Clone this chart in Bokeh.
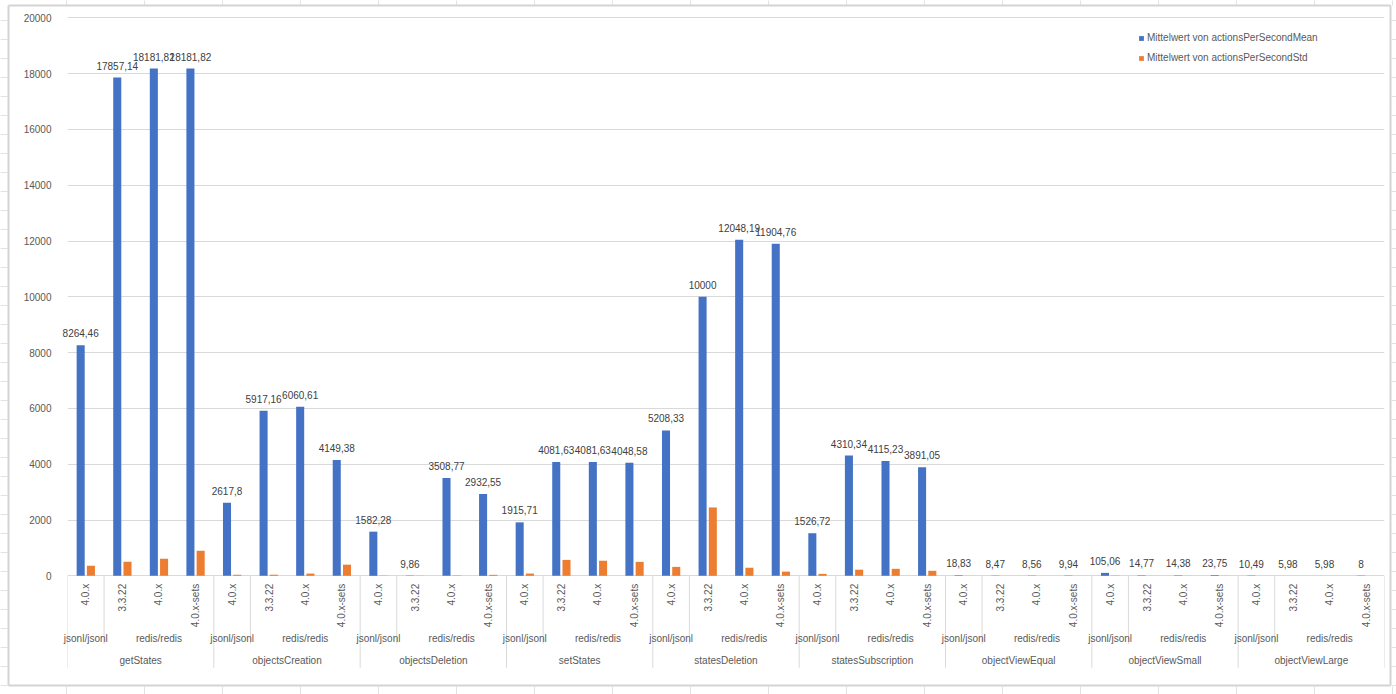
import math
from bokeh.plotting import figure
from bokeh.models import (FactorRange, Range1d, ColumnDataSource, FixedTicker, Legend,
                          LegendItem)
from bokeh.transform import dodge
from bokeh.core.properties import value
from bokeh.embed import file_html
from bokeh.resources import INLINE

# ---------------- data ----------------
tests = ["getStates", "objectsCreation", "objectsDeletion", "setStates", "statesDeletion",
         "statesSubscription", "objectViewEqual", "objectViewSmall", "objectViewLarge"]
backends = ["jsonl/jsonl", "redis/redis", "redis/redis", "redis/redis"]
versions = ["4.0.x", "3.3.22", "4.0.x", "4.0.x-sets"]

mean_values = [
    8264.46, 17857.14, 18181.82, 18181.82,      # getStates
    2617.8, 5917.16, 6060.61, 4149.38,          # objectsCreation
    1582.28, 9.86, 3508.77, 2932.55,            # objectsDeletion
    1915.71, 4081.63, 4081.63, 4048.58,         # setStates
    5208.33, 10000, 12048.19, 11904.76,         # statesDeletion
    1526.72, 4310.34, 4115.23, 3891.05,         # statesSubscription
    18.83, 8.47, 8.56, 9.94,                    # objectViewEqual
    105.06, 14.77, 14.38, 23.75,                # objectViewSmall
    10.49, 5.98, 5.98, 8,                       # objectViewLarge
]
std_values = [
    360, 500, 610, 900,
    40, 40, 80, 400,
    8, 4, 12, 35,
    80, 570, 540, 500,
    320, 2450, 290, 150,
    70, 220, 250, 180,
    1.5, 0.8, 0.9, 1.2,
    8, 1.5, 1.3, 2.5,
    0.9, 0.5, 0.5, 0.7,
]
y_ticks = [0, 2000, 4000, 6000, 8000, 10000, 12000, 14000, 16000, 18000, 20000]
series_names = ["Mittelwert von actionsPerSecondMean", "Mittelwert von actionsPerSecondStd"]

# ---------------- styling ----------------
BLUE = "#4472C4"
ORANGE = "#ED7D31"
TXT = "#595959"
GRID = "#D9D9D9"
SHEET = "#E2E2E2"
FONT = "Liberation Sans"
FS = "10px"

W, H = 1396, 694
LEFT, RIGHT = 67, 12
Y_MIN, Y_MAX = -4254, 20620
k = H / (Y_MAX - Y_MIN)                       # pixels per value unit
CAT = (W - LEFT - RIGHT) / len(mean_values)   # pixels per category


def below(px):
    return -px / k


def sx(px):      # canvas pixel -> synthetic categorical coordinate (decoration only)
    return (px - LEFT) / CAT


def sy(py):      # canvas pixel -> value coordinate (decoration only)
    return Y_MAX - py / k


def fmt(v):
    s = f"{v:.2f}".rstrip("0").rstrip(".")
    return s.replace(".", ",")


factors = [(tests[i // 4], backends[i % 4], versions[i % 4]) for i in range(len(mean_values))]

src = ColumnDataSource(dict(
    x=factors,
    mean=mean_values,
    std=std_values,
    label=[fmt(v) for v in mean_values],
    version=[f[2] for f in factors],
))

x_range = FactorRange(*factors, factor_padding=0, subgroup_padding=0, group_padding=0,
                      range_padding=0)

p = figure(width=W, height=H, x_range=x_range, y_range=Range1d(Y_MIN, Y_MAX),
           output_backend="svg", toolbar_location=None, x_axis_location=None,
           min_border_left=LEFT, min_border_right=RIGHT, min_border_top=0, min_border_bottom=0,
           background_fill_color="white", border_fill_color="white")
p.outline_line_color = None
p.xgrid.visible = False
p.ygrid.ticker = FixedTicker(ticks=y_ticks)
p.ygrid.grid_line_color = GRID
p.ygrid.grid_line_width = 1

ax = p.yaxis[0]
ax.ticker = FixedTicker(ticks=y_ticks)
ax.axis_line_color = None
ax.major_tick_line_color = None
ax.minor_tick_line_color = None
ax.major_label_standoff = 10
ax.major_label_text_font = FONT
ax.major_label_text_font_size = FS
ax.major_label_text_color = TXT

# ---------------- surrounding spreadsheet grid + chart border (decoration) ----------------
col_px = list(range(66, W + 1, 78))
row_px = list(range(20, H, 19))
deco = dict(line_color=SHEET, line_width=1, level="overlay")
# column lines above and below the chart object
col_sx = [sx(c) for c in col_px]
p.segment(x0=col_sx, x1=col_sx, y0=[sy(0)] * len(col_sx), y1=[sy(5)] * len(col_sx), **deco)
p.segment(x0=col_sx, x1=col_sx, y0=[sy(686)] * len(col_sx), y1=[sy(H)] * len(col_sx), **deco)
# row lines left and right of the chart object
row_sy = [sy(r) for r in row_px]
p.segment(x0=[sx(0)] * len(row_sy), x1=[sx(7)] * len(row_sy), y0=row_sy, y1=row_sy, **deco)
p.segment(x0=[sx(1391)] * len(row_sy), x1=[sx(W)] * len(row_sy), y0=row_sy, y1=row_sy, **deco)
# chart object border
bx = [sx(8), sx(1390)]
by = [sy(5), sy(685)]
p.segment(x0=[bx[0], bx[1], bx[0], bx[0]], x1=[bx[0], bx[1], bx[1], bx[1]],
          y0=[by[0], by[0], by[0], by[1]], y1=[by[1], by[1], by[0], by[1]],
          line_color="#D4D4D4", line_width=2, level="overlay")

# bars
r_mean = p.vbar(x=dodge("x", -0.14, range=x_range), top="mean", width=0.22, source=src,
                fill_color=BLUE, line_color=None)
r_std = p.vbar(x=dodge("x", 0.14, range=x_range), top="std", width=0.22, source=src,
               fill_color=ORANGE, line_color=None)

txt = dict(text_font=value(FONT), text_font_size=FS, level="overlay")

# data labels on the mean series
p.text(x=dodge("x", -0.14, range=x_range), y="mean", text="label", source=src,
       y_offset=-12, text_align="center", text_baseline="alphabetic",
       text_color="#404040", **txt)

# ---------------- multi-level category axis ----------------
p.text(x="x", y=below(8), text="version", source=src, angle=math.pi / 2,
       text_align="right", text_baseline="middle", text_color=TXT, **txt)

mid_x, mid_t = [], []
for t in tests:
    for b in ["jsonl/jsonl", "redis/redis"]:
        mid_x.append((t, b))
        mid_t.append(b)
mid_src = ColumnDataSource(dict(x=mid_x, t=mid_t))
p.text(x="x", y=below(63), text="t", source=mid_src, text_align="center",
       text_baseline="middle", text_color=TXT, **txt)

top_src = ColumnDataSource(dict(x=tests, t=tests))
p.text(x="x", y=below(85), text="t", source=top_src, text_align="center",
       text_baseline="middle", text_color=TXT, **txt)

# separators
full_x = [(t, backends[0], versions[0], -0.5) for t in tests] + \
         [(tests[-1], backends[-1], versions[-1], 0.5)]
short_x = [(t, backends[1], versions[1], -0.5) for t in tests]
p.segment(x0=full_x, x1=full_x, y0=0, y1=below(92), line_color=GRID, line_width=1)
p.segment(x0=short_x, x1=short_x, y0=0, y1=below(68), line_color=GRID, line_width=1)

# legend
legend = Legend(items=[LegendItem(label=series_names[0], renderers=[r_mean]),
                       LegendItem(label=series_names[1], renderers=[r_std])],
                location=(1138 - LEFT, H - 27.5 - 40), glyph_width=6, glyph_height=6,
                label_standoff=3, spacing=0, padding=0, margin=0, label_height=20,
                border_line_color=None, background_fill_alpha=0,
                label_text_font=FONT, label_text_font_size=FS, label_text_color=TXT)
p.add_layout(legend)

open("out.html", "w").write(file_html(p, INLINE))
